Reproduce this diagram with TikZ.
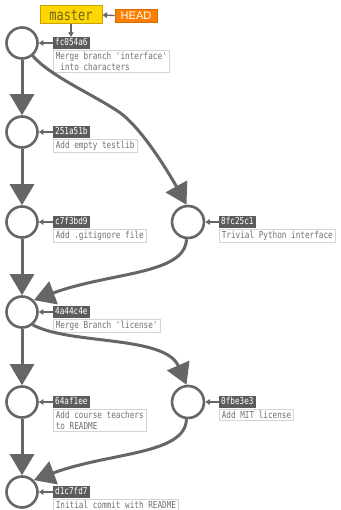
\documentclass[tikz,border=0pt]{standalone}
\usepackage{fontspec}
\setmainfont{Liberation Sans}
\newfontfamily\gitmono[FakeStretch=0.8,Ligatures=TeXOff]{DejaVu Sans Mono}
\usetikzlibrary{arrows.meta}

\definecolor{linegray}{HTML}{666666}
\definecolor{shafill}{HTML}{5C5C5C}
\definecolor{msgframe}{HTML}{D4D4D4}
\definecolor{msgtext}{HTML}{707070}
\definecolor{branchfill}{HTML}{FFD700}
\definecolor{branchframe}{HTML}{C8A200}
\definecolor{branchtext}{HTML}{6E6328}
\definecolor{headfill}{HTML}{FF8000}
\definecolor{headframe}{HTML}{D96C00}

\begin{document}
\begin{tikzpicture}[x=1pt,y=1pt,
  commit/.style={circle,draw=linegray,line width=2.6pt,fill=white,minimum size=31pt,inner sep=0pt},
  sidecommit/.style={commit,minimum size=32pt},
  sha/.style={fill=shafill,text=white,font=\gitmono\fontsize{9.6}{10}\selectfont,
    inner xsep=2pt,inner ysep=0pt,minimum height=12pt,text height=7.1pt,text depth=1.8pt,anchor=west},
  msg/.style={draw=msgframe,line width=0.7pt,fill=white,text=msgtext,
    font=\gitmono\fontsize{9.6}{10.8}\selectfont,align=left,anchor=north west,
    inner xsep=2.5pt,inner ysep=1.8pt},
  branch/.style={draw=branchframe,line width=1pt,fill=branchfill,text=branchtext,
    font=\gitmono\fontsize{15}{15}\selectfont,minimum width=62pt,minimum height=18pt,inner sep=0pt},
  headref/.style={draw=headframe,line width=0.8pt,fill=headfill,text=white,
    font=\fontsize{11}{11}\selectfont,minimum width=42pt,minimum height=13pt,inner sep=0pt},
  parent/.style={draw=linegray,line width=3pt,-{Triangle[length=21pt,width=24pt]}},
  pointer/.style={draw=linegray,line width=1.3pt,-{Triangle[length=4.5pt,width=5.5pt]}},
]
\useasboundingbox (0,0) rectangle (340,-510);

% commits
\node[commit] (c1) at (22,-43) {};
\node[commit] (c2) at (22,-132) {};
\node[commit] (c3) at (22,-222) {};
\node[sidecommit] (c4) at (188,-222) {};
\node[commit] (c5) at (22,-312) {};
\node[commit] (c6) at (22,-402) {};
\node[sidecommit] (c7) at (188,-402) {};
\node[commit] (c8) at (22,-492) {};

% hashes and messages
\node[sha] (h1) at (53,-43) {fc054a6};
\node[msg] (m1) at ([yshift=-1pt]h1.south west) {Merge branch 'interface'\\\hphantom{x}into characters};
\node[sha] (h2) at (53,-132) {251a51b};
\node[msg] (m2) at ([yshift=-1pt]h2.south west) {Add empty testlib};
\node[sha] (h3) at (53,-222) {c7f3bd9};
\node[msg] (m3) at ([yshift=-1pt]h3.south west) {Add .gitignore file};
\node[sha] (h4) at (219,-222) {8fc25c1};
\node[msg] (m4) at ([yshift=-1pt]h4.south west) {Trivial Python interface};
\node[sha] (h5) at (53,-312) {4a44c4e};
\node[msg] (m5) at ([yshift=-1pt]h5.south west) {Merge Branch 'license'};
\node[sha] (h6) at (53,-402) {64af1ee};
\node[msg] (m6) at ([yshift=-1pt]h6.south west) {Add course teachers\\to README};
\node[sha] (h7) at (219,-402) {0fbe3e3};
\node[msg] (m7) at ([yshift=-1pt]h7.south west) {Add MIT license};
\node[sha] (h8) at (53,-492) {d1c7fd7};
\node[msg] (m8) at ([yshift=-1pt]h8.south west) {Initial commit with README};

% refs
\node[branch] (master) at (71,-15) {master};
\node[headref] (head) at (136,-15.5) {HEAD};

% ref pointers
\draw[pointer] (head.west) -- (master.east);
\draw[pointer] (master.south) -- (master.south |- h1.north);
\foreach \i in {1,...,8} {
  \draw[pointer] (h\i.west) -- (c\i.east);
}

% history, main line
\draw[parent] (c1) -- (c2);
\draw[parent] (c2) -- (c3);
\draw[parent] (c3) -- (c5);
\draw[parent] (c5) -- (c6);
\draw[parent] (c6) -- (c8);

% history, side branches
\coordinate (k1) at (119,-112);
\draw[parent] (c1.-50) .. controls (50,-76) and (94,-95) .. (k1)
  .. controls (143.6,-129) and (173.4,-181) .. (c4.95);
\draw[parent] (c4.-95) .. controls (185,-275) and (110,-272) .. (c5.45);
\draw[parent] (c5.-50) .. controls (70,-345) and (165,-335) .. (c7.95);
\draw[parent] (c7.-95) .. controls (185,-455) and (110,-452) .. (c8.45);
\end{tikzpicture}
\end{document}
